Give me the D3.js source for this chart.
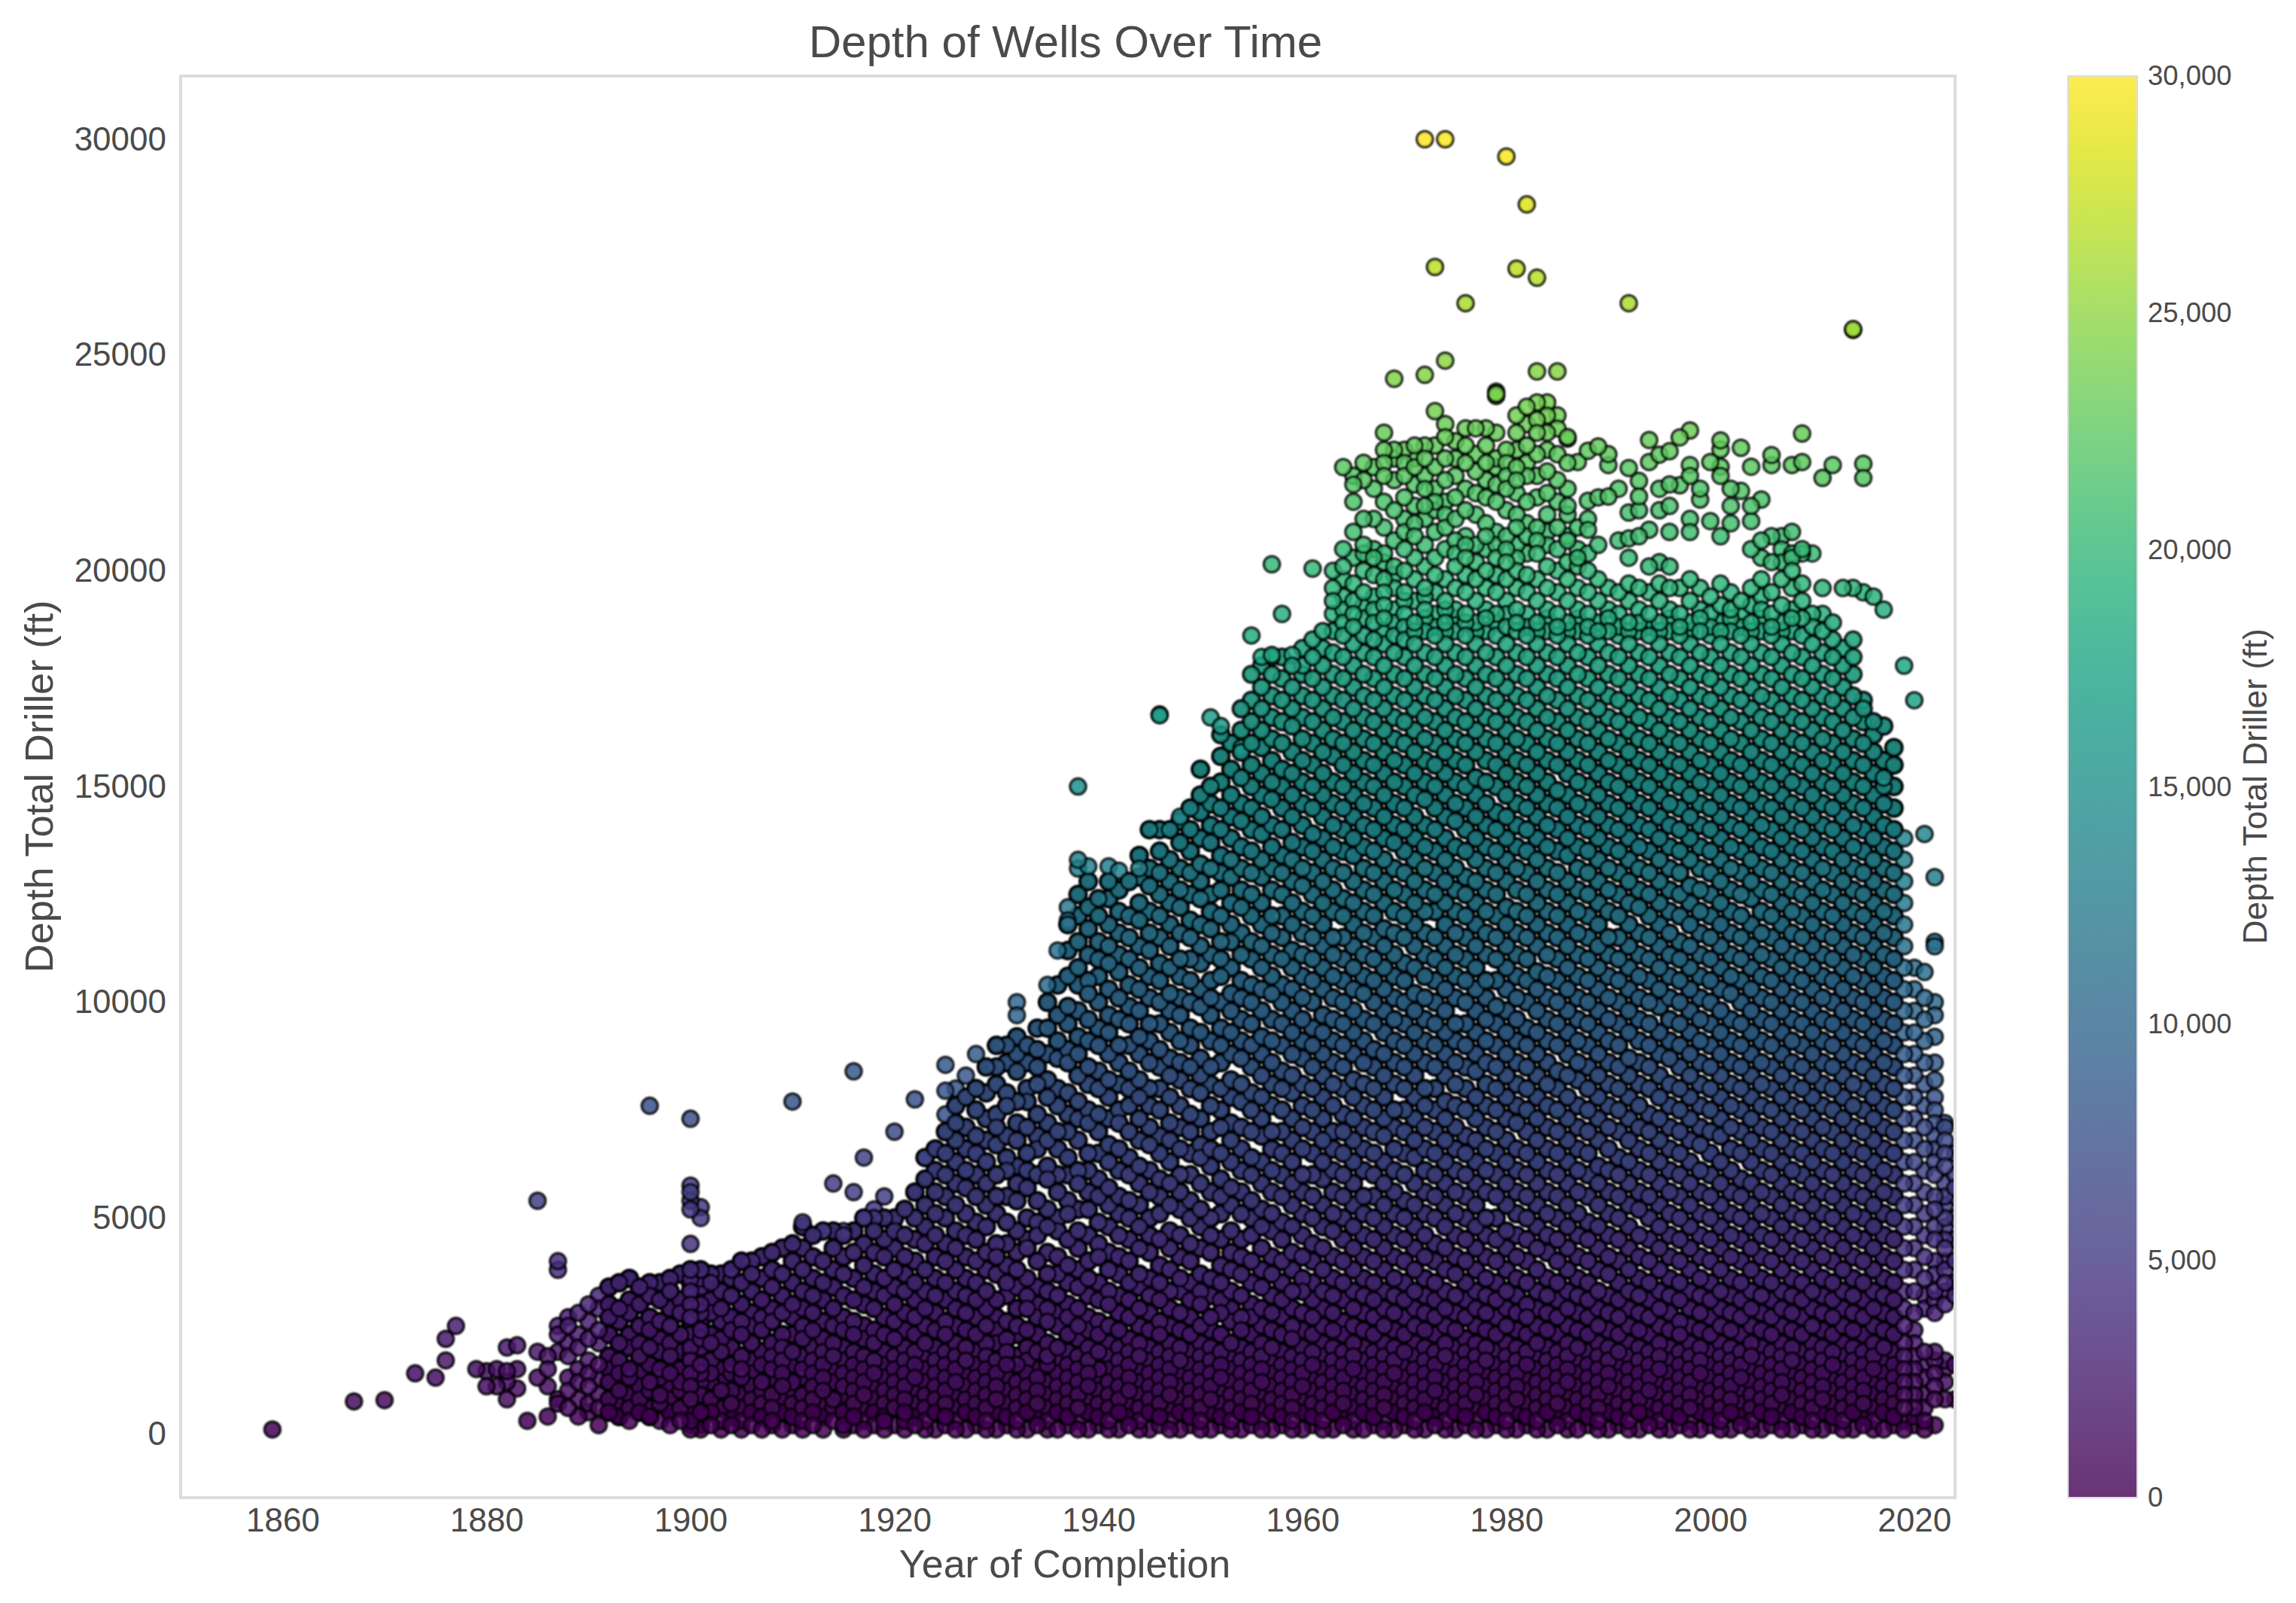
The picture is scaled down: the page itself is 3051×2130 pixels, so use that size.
<!DOCTYPE html>
<html>
<head>
<meta charset="utf-8">
<script src="https://d3js.org/d3.v7.min.js"></script>
<style>
  html, body { margin: 0; background: #fff; }
  text { font-family: "Liberation Sans", Arial, sans-serif; fill: #4a4a4a; }
</style>
</head>
<body>
<div id="chart"></div>
<script>
// wells, one row per year, depth in hundreds of feet
const cloud1880s = [
  [6,10,13,18,21,25,27],
  [4,8,12,15,20,23,28]
];
const cloud1890s = [
  [5,7,11,14,17,22,26,30],
  [2,6,9,13,16,21,24,29,32],
  [5,8,12,15,18,23,27,30,34],
  [4,7,10,14,17,21,26,29,35],
  [3,6,9,13,15,20,23,28,31,36],
  [5,8,11,14,18,21,25,30,34],
  [4,6,10,12,16,20,24,27,32,35],
  [3,7,9,13,15,19,22,26,31,35],
  [2,5,8,11,14,18,21,25,29,33,36],
  [3,6,10,12,15,19,23,28,31,37]
];
const cloud1900s = [
  [1,2,3,4,6,7,8,10,11,13,14,15,17,18,20,21,23,24,26,27,29,30,32,33,35,36,38],
  [1,2,4,5,7,9,10,12,14,16,18,20,22,24,26,28,30,32,34,36,38],
  [2,5,8,12,14,17,21,23,28,31,35,37],
  [1,3,6,10,12,15,19,22,26,29,33,37],
  [2,4,7,10,14,16,20,24,27,32,36,38],
  [1,3,6,9,13,15,18,23,26,30,35,40],
  [2,5,8,11,14,17,21,25,28,33,37,40],
  [1,4,7,10,12,16,19,24,27,31,36,41],
  [2,3,6,9,13,15,18,21,26,29,34,38,42],
  [1,5,8,11,14,17,20,23,28,32,37,43]
];
const cloud1910s = [
  [2,4,7,10,12,16,19,23,27,30,35,40,44],
  [1,3,6,9,13,15,18,22,25,29,33,38,43,48],
  [2,5,8,11,14,17,20,24,28,32,36,41,46],
  [1,4,7,10,13,16,19,22,26,31,35,40,47],
  [3,6,8,12,15,18,21,25,29,34,38,43,47],
  [1,2,5,9,11,14,17,20,24,27,32,37,41,46],
  [2,4,7,10,13,16,19,23,26,31,36,42,47],
  [1,3,6,9,12,15,18,22,25,30,34,39,44,50],
  [2,5,8,11,14,17,21,24,29,33,37,42,47,50],
  [1,3,4,7,10,13,16,19,23,27,32,36,41,45,50]
];
const cloud1920s = [
  [2,6,9,12,15,18,22,26,30,34,38,43,47,50],
  [1,3,5,8,11,14,17,20,24,28,33,37,41,46,52],
  [2,4,7,10,13,16,19,23,27,31,35,40,45,50,56],
  [1,3,6,9,12,15,18,21,25,29,33,38,44,48,53,59,64],
  [1,5,8,11,14,17,20,24,28,32,36,41,46,51,56,61,66],
  [2,4,7,10,13,16,19,23,26,31,35,40,44,50,55,60,65,70],
  [1,3,6,9,12,15,18,21,25,29,33,38,43,47,53,58,63,68,72,76],
  [1,5,8,11,14,17,20,24,28,32,36,41,46,51,57,61,66,71,78],
  [2,4,7,10,13,16,19,23,27,31,35,40,45,49,55,60,65,69,75,80],
  [1,3,6,9,12,15,18,21,25,29,33,38,42,48,53,58,63,68,73,79,85]
];
const cloud1930s = [
  [1,5,8,11,14,17,21,24,27,31,37,41,44,51,55,60,67,71,74,81,85,90],
  [2,4,7,10,13,16,19,22,26,32,35,39,44,49,55,61,64,69,76,79,86,90],
  [1,3,6,9,12,16,18,23,25,29,34,38,42,47,54,58,62,68,72,77,84,88,92],
  [1,5,8,11,14,17,20,24,29,32,36,43,45,50,57,61,65,71,77,80,86,90],
  [2,4,7,10,13,15,19,23,27,30,34,40,46,49,54,60,66,69,74,81,85,89,94],
  [1,3,6,9,12,16,18,21,26,29,33,37,42,48,52,59,62,68,72,78,82,88,94,100],
  [1,5,8,11,14,17,20,25,28,32,37,41,47,50,56,60,66,70,76,80,87,91,97,104],
  [2,4,7,10,13,16,19,23,27,30,35,39,45,51,54,60,64,70,74,79,86,89,95,99,106,112,118],
  [1,3,6,9,12,15,18,22,25,29,34,38,43,47,52,58,61,68,73,77,83,88,92,98,104,108,114,120,125],
  [1,5,8,11,14,17,20,24,27,32,36,40,46,52,56,61,65,72,75,81,85,91,96,102,105,111,117,122,128]
];
const cloud1940s = [
  [2,4,7,10,13,15,19,23,26,31,35,41,44,49,55,59,65,70,74,80,84,90,94,100,106,110,114,120,124],
  [1,3,6,9,12,15,18,21,25,30,33,38,42,48,53,57,63,67,73,78,82,88,93,97,103,109,113,118,124,128],
  [1,5,8,11,14,17,20,24,28,32,37,41,46,51,55,61,66,72,75,81,86,90,96,101,107,111,116,121,126],
  [2,4,7,10,13,16,19,22,27,31,35,40,45,50,54,60,64,70,76,80,84,90,95,99,104,110,115,120,128],
  [1,3,6,9,12,15,18,21,25,29,34,37,43,48,53,58,62,68,73,78,82,88,92,98,103,108,113,119,123,129,134],
  [1,5,8,11,14,17,20,24,28,32,36,42,46,50,56,61,67,71,76,80,86,91,95,101,106,112,116,121,127,131,140],
  [2,4,7,10,13,16,19,23,26,31,35,39,45,51,55,59,65,69,75,80,85,89,95,100,105,109,115,120,125,130,135,140],
  [1,3,6,9,12,15,18,21,25,29,33,38,43,47,53,58,63,68,72,78,83,87,93,98,102,108,113,118,123,128,133,140],
  [1,5,8,11,14,17,20,24,28,33,36,41,46,52,56,60,66,71,76,82,86,91,97,101,106,110,116,122,126,131,137,142],
  [2,4,7,10,13,16,19,23,27,31,35,40,44,50,54,60,65,70,74,80,85,90,94,100,105,110,115,119,125,130,135,140,145]
];
const cloud1950s = [
  [1,3,6,9,12,15,18,21,25,30,33,37,43,48,52,58,64,67,73,79,83,87,93,99,103,109,113,118,124,128,132,138,144,148,154],
  [1,5,8,11,14,17,20,24,27,32,36,42,46,50,56,62,66,70,76,81,85,91,97,101,105,111,117,121,125,131,137,141,146,150],
  [2,4,7,10,13,16,19,23,28,31,35,39,45,51,55,59,65,71,75,80,86,90,94,100,106,110,114,120,126,130,134,140,145,151,157,162],
  [1,3,6,9,12,15,18,21,26,29,33,38,42,47,53,57,63,68,72,78,82,88,93,98,102,108,114,118,123,129,133,138,143,148,154,160],
  [1,5,8,11,14,17,20,24,27,32,37,41,45,51,56,61,66,71,77,81,87,91,96,101,105,111,116,122,126,131,136,142,146,152,158,163,168],
  [2,4,7,10,13,16,19,23,27,30,35,40,46,50,54,60,64,70,75,79,85,90,95,100,104,110,114,120,125,130,135,140,145,150,155,160,165,170,176],
  [1,3,6,9,12,15,18,21,25,29,34,38,43,48,52,58,63,69,73,78,83,88,92,98,103,108,113,118,123,129,133,139,143,148,153,159,163,168,173,178],
  [1,5,8,11,14,17,20,24,28,32,37,41,47,51,56,61,66,70,76,81,86,91,96,102,106,111,116,120,126,131,136,141,147,151,156,161,166,171,176,180],
  [2,4,7,10,13,16,19,23,27,31,35,40,45,49,55,60,65,70,75,80,84,90,95,100,104,110,115,120,125,130,134,140,145,150,154,160,165,170,175,180],
  [1,3,6,9,12,15,18,22,25,29,33,38,42,48,53,58,63,68,73,79,83,88,93,98,103,108,112,118,123,128,133,137,143,148,153,158,164,168,173,178]
];
const cloud1960s = [
  [1,5,8,11,14,17,20,24,28,33,36,41,46,51,56,60,66,71,76,81,87,91,96,101,106,111,116,121,127,131,136,141,146,151,156,161,166,171,176,182],
  [2,4,7,10,13,16,19,23,27,31,35,40,44,50,55,60,65,70,75,80,85,90,94,100,105,110,115,120,125,130,135,139,145,150,155,160,165,170,175,180,184],
  [1,3,6,9,12,15,18,21,25,29,33,38,43,48,53,59,63,68,73,78,83,88,93,97,103,108,113,118,123,128,133,138,143,148,153,158,163,168,173,178,182,186],
  [1,5,8,11,14,17,20,24,28,32,36,41,47,51,56,61,66,70,76,81,86,91,96,101,106,111,115,121,126,131,136,141,146,151,157,161,166,171,176,181,186,190,193,196,200],
  [2,4,7,10,13,16,19,23,26,31,35,40,45,50,55,60,65,70,74,80,85,90,95,100,105,110,115,120,124,130,135,140,145,150,155,160,165,170,175,180,185,188,191,194,198,201,205,224],
  [1,3,6,9,12,15,18,21,25,29,33,38,43,48,53,58,63,68,73,78,82,88,93,98,103,108,113,118,123,128,134,138,143,148,153,158,163,168,173,178,183,187,190,193,197,203,209,216,220,222],
  [1,5,8,11,14,17,20,24,28,32,36,41,46,51,55,61,66,71,76,81,86,91,96,102,106,111,116,121,126,131,136,141,146,151,156,161,166,171,176,181,185,189,192,195,200,204,206,212,221,225],
  [2,4,7,10,13,16,19,23,27,31,35,40,45,50,55,60,65,70,75,80,85,89,95,100,105,110,115,120,125,130,135,140,145,150,155,160,165,170,175,180,184,188,191,194,199,203,205,212,219,224],
  [1,3,6,9,12,15,18,21,25,29,33,38,43,48,53,58,63,69,73,78,83,88,93,98,103,108,113,117,123,128,133,138,143,148,153,158,163,168,173,178,183,186,189,192,195,198,202,204,210,216,222,225,228,232],
  [1,5,8,11,14,17,20,24,28,32,36,41,46,51,56,61,66,71,75,81,86,91,96,101,106,111,116,121,126,131,137,141,146,151,156,161,166,171,176,181,185,188,191,196,199,201,207,214,221,226,228]
];
const cloud1970s = [
  [2,4,7,10,13,16,19,23,27,31,35,40,45,50,54,60,65,70,75,80,85,90,95,100,105,109,115,120,125,130,135,140,145,150,155,160,165,170,175,180,184,187,190,193,195,200,205,209,212,217,222,225,228],
  [1,3,6,9,12,15,18,21,25,29,33,38,43,48,53,58,64,68,73,78,83,88,93,98,102,108,113,118,123,128,133,138,143,148,153,158,163,168,173,178,183,186,188,193,198,203,208,211,215,220,224,226,229],
  [1,5,8,11,14,17,20,24,28,32,36,41,46,51,56,61,66,71,76,80,86,91,96,101,106,111,116,121,126,131,136,141,147,151,156,161,166,171,176,181,186,189,191,194,196,201,206,212,215,219,222,226,229],
  [2,4,7,10,13,16,19,23,27,31,35,40,44,50,55,60,65,70,75,80,85,90,95,100,105,110,115,121,125,130,135,140,145,150,155,160,165,170,175,180,185,187,190,195,199,203,209,214,216,219,224,229,237],
  [1,3,6,9,12,15,18,21,25,29,33,38,43,48,53,58,63,68,73,77,83,88,93,98,103,108,113,118,123,128,133,138,143,148,153,158,163,168,173,178,183,186,188,191,193,198,205,210,213,216,221,226,231,234],
  [1,5,8,11,14,17,20,24,28,32,37,41,46,51,56,61,66,71,76,81,86,91,95,101,106,111,116,121,126,131,136,142,146,151,156,161,166,171,176,181,186,189,191,196,201,204,207,212,217,222,226,230],
  [2,4,7,10,13,16,19,22,27,31,35,40,45,50,55,60,65,69,75,80,85,90,95,100,105,110,115,120,125,129,135,140,145,150,155,160,165,170,175,180,185,188,190,195,199,203,206,208,214,219,225,229,233],
  [1,3,6,9,12,15,18,21,25,29,33,38,43,48,53,58,63,68,73,78,84,88,93,98,103,108,113,118,123,128,133,138,143,148,152,158,163,168,173,178,183,186,188,193,198,202,206,213,218,223,227,233],
  [1,5,8,11,14,17,20,24,28,32,36,41,46,50,56,61,66,71,76,81,86,91,96,101,105,111,116,121,126,131,136,141,146,151,156,161,166,171,176,181,186,189,191,196,200,205,208,211,217,221,225,229,233],
  [2,4,7,10,13,16,19,23,27,31,35,40,45,50,55,60,65,70,75,80,85,90,95,99,105,110,115,120,125,130,135,140,144,150,155,160,165,170,175,180,185,188,190,195,199,203,206,209,216,220,224,226,232,241]
];
const cloud1980s = [
  [1,3,6,9,12,15,18,21,25,29,33,38,43,47,53,58,63,68,73,78,83,88,93,98,103,108,113,118,122,128,133,138,143,148,153,158,163,168,173,178,183,187,190,193,198,202,205,208,214,219,222,225,228],
  [1,5,8,11,14,17,20,24,28,32,36,41,46,51,56,61,66,72,76,81,86,91,96,101,106,111,116,121,126,131,136,141,146,151,156,161,166,171,176,181,186,188,191,196,200,203,206,210,213,218,221,224,228,232,236],
  [2,4,7,10,13,16,19,23,27,30,35,40,45,50,55,60,65,70,75,80,85,90,94,100,105,110,115,120,125,130,135,140,145,150,155,160,165,170,175,180,185,187,190,195,199,204,208,211,216,222,225,229,234,238],
  [1,3,6,9,12,15,18,21,25,29,33,38,43,48,53,58,63,68,73,78,83,88,93,98,103,107,113,118,123,128,133,138,143,148,153,158,163,168,173,178,183,186,188,193,198,204,207,210,217,222,227,232,235,239],
  [1,5,8,11,14,17,20,24,28,32,36,42,46,51,56,61,66,71,76,81,86,91,96,101,106,111,116,121,126,131,136,141,146,151,156,161,166,171,176,181,186,189,191,196,201,206,209,213,218,223,228,232,236,239],
  [2,4,7,10,13,16,19,23,27,31,35,40,45,50,55,60,65,70,75,80,84,90,95,100,105,110,115,120,125,130,135,140,145,149,155,160,165,170,175,180,185,187,190,195,200,205,210,216,221,227,233,236],
  [1,3,6,9,12,15,18,21,25,29,33,38,43,48,53,58,63,68,73,78,83,88,93,98,103,108,113,118,123,128,134,138,143,148,153,158,163,168,173,178,183,186,188,193,198,202,207,213,219,225,231],
  [1,5,8,11,14,17,20,24,28,32,36,41,46,51,56,61,66,71,76,82,86,91,96,101,106,111,116,121,126,131,136,141,146,151,156,161,166,171,176,181,186,189,191,196,201,205],
  [2,4,7,10,13,16,19,23,27,31,35,40,45,49,55,60,65,70,75,80,85,90,95,100,105,110,115,120,125,130,135,140,145,150,155,160,165,170,175,180,185,187,190,195,200],
  [1,3,6,9,12,15,18,21,25,29,33,38,43,48,53,58,62,68,73,78,83,88,93,98,103,108,113,118,123,128,133,138,143,148,153,158,163,168,173,178,183,186,188,193,198]
];
const cloud1990s = [
  [1,5,8,11,14,17,20,24,28,32,37,41,46,51,56,61,66,71,76,81,86,91,96,101,106,111,115,121,126,131,136,141,146,151,156,161,166,171,176,181,186,189,191,196],
  [2,4,7,10,13,16,19,23,27,31,35,40,45,50,55,60,64,70,75,80,85,90,95,100,105,110,115,120,125,130,135,140,145,150,155,160,165,170,175,180,185,187,190,195],
  [1,3,6,9,12,15,18,21,25,29,33,38,43,48,53,58,63,68,73,78,83,87,93,98,103,108,113,118,123,128,133,138,143,148,153,158,163,168,173,178,183,186,188,193,197],
  [1,5,8,11,14,17,20,24,28,32,36,41,46,52,56,61,66,71,76,81,86,91,96,101,106,111,116,122,126,131,136,141,146,151,156,161,166,171,176,181,186,188,191,196],
  [2,4,7,10,13,16,19,23,27,31,35,40,45,50,55,60,65,70,74,80,85,90,95,100,105,110,115,120,125,130,135,140,145,150,155,160,165,170,175,180,185,187,190,195,201],
  [1,3,6,9,12,15,18,21,25,29,33,38,43,48,53,58,63,68,73,78,83,88,93,99,103,108,113,118,123,128,133,138,143,148,153,158,163,168,173,178,183,186,188,193,197,202],
  [1,5,8,11,14,17,20,24,28,32,36,41,46,51,56,61,66,71,76,81,87,91,96,101,106,111,116,121,126,131,136,141,146,151,156,161,166,171,176,181,186,189,191,196,201],
  [2,4,7,10,13,16,19,23,26,31,35,40,45,50,55,60,65,70,75,80,85,90,95,100,105,110,114,120,125,130,135,140,145,150,155,160,165,170,175,180,185,187,190,196],
  [1,3,6,9,12,15,18,21,25,29,33,38,43,48,53,58,63,68,73,78,83,88,93,98,103,108,113,118,123,127,133,138,143,148,153,158,163,168,173,178,183,186,188,193,198],
  [1,5,8,11,14,17,20,24,28,32,36,41,46,51,56,61,67,71,76,81,86,91,96,101,106,111,116,121,126,131,136,141,146,151,156,161,166,171,176,181,186,189,191,196]
];
const cloud2000s = [
  [2,4,7,10,13,16,19,23,27,31,35,40,45,50,55,60,65,70,75,80,85,90,95,100,105,110,115,120,125,130,135,140,145,150,155,160,165,170,175,180,185,187,190,194],
  [1,3,6,9,12,15,18,21,25,29,33,38,43,48,53,58,63,69,73,78,83,88,93,98,103,108,113,118,123,128,133,138,143,148,153,158,163,168,173,178,183,186,188,192,197],
  [1,5,8,11,14,17,20,24,28,32,36,41,46,51,56,61,66,71,76,81,86,91,96,102,106,111,116,121,126,131,136,141,146,151,156,161,166,171,176,181,186,189,191,195],
  [2,4,7,10,13,16,19,23,27,31,35,40,45,50,55,59,65,70,75,80,85,90,95,100,105,110,115,120,125,130,135,140,145,150,155,160,165,170,175,180,185,187,190,193],
  [1,3,6,9,12,15,18,21,25,29,33,38,43,48,53,58,63,68,73,78,83,88,93,98,103,108,113,118,124,128,133,138,143,148,153,158,163,168,173,178,183,186,188,192,196],
  [1,5,8,11,14,17,20,24,28,32,36,41,46,51,56,61,66,71,76,81,86,91,96,101,106,111,116,121,126,131,136,141,146,151,156,161,166,171,176,181,186,189,191,194,198,203],
  [2,4,7,10,13,16,19,23,27,31,35,40,45,50,55,60,65,70,75,80,85,90,95,100,105,110,115,120,125,130,135,140,145,150,155,160,165,170,175,180,185,187,190,195,202],
  [1,3,6,9,12,15,18,21,25,29,33,38,43,48,53,58,63,68,73,78,83,88,93,98,103,108,113,118,123,128,133,138,143,148,153,158,163,168,173,178,183,186,188,192,198,202,205],
  [1,5,8,11,14,17,20,24,28,32,36,41,46,51,56,61,66,71,76,81,86,91,96,101,106,111,116,121,126,131,136,141,146,151,156,161,166,171,176,181,186,189,191,196,200,204],
  [2,4,7,10,13,16,19,23,27,31,35,40,45,50,55,60,65,70,75,80,85,90,95,100,105,110,115,120,125,130,135,140,145,150,155,160,165,170,175,180,185,189,193,197,204]
];
const cloud2010s = [
  [1,3,6,9,12,15,18,21,25,29,33,38,43,48,53,58,63,68,73,78,83,88,93,98,103,108,113,118,123,128,133,138,143,148,153,158,163,168,173,178,183,187,190],
  [1,5,8,11,14,17,20,24,28,32,36,41,46,51,56,61,66,71,76,81,86,91,96,101,106,111,116,121,126,131,136,141,146,151,156,161,166,171,176,181,186,190,196],
  [2,4,7,10,13,16,19,23,27,31,35,40,45,50,55,60,65,70,75,80,85,90,95,100,105,110,115,120,125,130,135,140,145,150,155,160,165,170,175,180,184,188],
  [1,3,6,9,12,15,18,21,25,29,33,38,43,48,53,58,63,68,73,78,83,88,93,98,103,108,113,118,123,128,133,138,143,148,153,158,163,168,173,178,182,196],
  [1,5,8,11,14,17,20,24,28,32,36,41,46,51,56,61,66,71,76,81,86,91,96,101,106,111,116,121,126,131,136,141,146,151,156,161,166,171,176,180,184,196],
  [2,4,7,10,13,16,19,23,27,31,35,40,45,50,55,60,65,70,75,80,85,90,95,100,105,110,115,120,125,130,135,140,145,150,155,160,165,168,170,195],
  [1,3,6,9,12,15,18,21,25,29,33,38,43,48,53,58,63,68,73,78,83,88,93,98,103,108,113,118,123,128,133,138,143,148,153,158,162,165,194],
  [1,5,8,11,14,17,20,24,28,32,36,41,46,51,56,61,66,71,76,81,86,91,96,101,106,111,116,121,126,131,136,141,146,150,152,156,164,191],
  [2,4,7,10,13,16,19,23,27,31,35,40,45,50,55,60,65,70,75,80,85,90,95,100,105,110,115,120,125,130,135,140,145,150,155,159],
  [1,3,6,9,12,15,18,21,25,29,33,38,43,48,53,58,63,68,73,78,83,88,93,98,103,108,113,118,123,128,133,138,178]
];
const cloud2020s = [
  [2,4,6,9,12,15,18,21,24,28,33,38,43,48,53,58,63,68,73,78,83,88,93,98,103,108,170],
  [1,3,6,9,13,16,19,29,32,36,41,46,51,56,61,66,71,76,81,86,91,96,101,107,139],
  [2,8,11,14,17,19,28,31,33,37,40,45,48,52,55,60,63,66,69,72,75,78,82,86,92,97,100,113,114,129],
  [8,12,15,17,30,33,35,38,40,43,45,48,50,53,55,58,62,65,68,71,72],
  [8,16,32,35,40,45,50,55,57,60,65]
];
const cloudDecades = [
  [1888, cloud1880s], [1890, cloud1890s], [1900, cloud1900s], [1910, cloud1910s],
  [1920, cloud1920s], [1930, cloud1930s], [1940, cloud1940s], [1950, cloud1950s],
  [1960, cloud1960s], [1970, cloud1970s], [1980, cloud1980s], [1990, cloud1990s],
  [2000, cloud2000s], [2010, cloud2010s], [2020, cloud2020s]
];

// scattered wells outside the solid part of the cloud
const earlyYears = [1859,1867,1870,1873,1875,1876,1876,1877,1879,1880,1881,1881,1880,1882,1883,1882,1883,1883,1882,1882,1884,1885,1885,1886,1886,1886,1886,1887,1887,1887,1887,1887,1887,1887,1885];
const earlyDepths = [100,750,780,1400,1300,1700,2200,2500,1500,1450,1500,1100,1100,2000,2050,1450,1500,1050,1200,800,300,1300,1900,1100,1500,1800,400,700,800,1900,2300,2500,3800,4000,5400];
const spikeYears = [1896,1900,1900,1900,1900,1900,1900,1901,1901,1910,1916,1922,1920,1917,1914,1916,1919,1918,1917,1911,1913,1915,1923,1925,1925,1926,1925,1928,1927,1932,1932,1938,1938,1938,1939,1941,1942,1944,1937,1937,1936,1935,1946,1946,1951,1952,1955,1957,1961,1958,1957,1956,1959,1960,1954,1948];
const spikeDepths = [7600,7300,5750,5600,5400,5200,4400,5250,5000,7700,8400,7750,7000,6400,5800,5600,5500,5200,5000,4900,4700,4700,6400,7400,7950,8000,8550,8800,8300,10000,9700,15000,13300,13100,13150,13150,13050,13100,12200,11900,11200,10400,16650,16670,16600,16400,18500,20150,20050,19000,18050,18000,18050,17800,15900,14300];
const deepYears = [1972,1974,1980,1982,1973,1981,1983,1976,1992,2014,2014,1974,1972,1969,1983,1985,1979,1979];
const deepDepths = [30000,30000,29600,28490,27040,27000,26790,26200,26200,25580,25600,24870,24540,24450,24620,24620,24150,24050];
const upperYears = [1986,1986,1986,1987,1987,1988,1988,1988,1988,1988,1989,1989,1990,1990,1990,1991,1991,1992,1992,1992,1992,1993,1993,1993,1993,1994,1994,1994,1995,1995,1995,1996,1996,1996,1996,1997,1997,1998,1998,1998,1998,1998,1999,1999,2000,2000,2001,2001,2001,2001,2001,2002,2002,2002,2003,2003,2004,2004,2004,2004,2005,2005,2006,2006,2006,2007,2008,2008,2008,2009,2009,2009,2010,2011,2012,2015,2015,1987,1989];
const upperDepths = [23060,21500,20800,22520,21000,22780,21620,21200,20950,20400,22880,21700,22700,22450,21720,21900,20700,22380,21350,20750,20300,22080,21720,21400,20800,23030,22520,20950,22690,21900,21400,22770,22000,21500,20900,23090,21980,23250,22450,22200,21200,20900,21900,21650,22520,21150,23020,22810,22410,22200,20800,21900,21500,21100,22850,21850,22410,21500,21150,20500,21650,20700,22680,22450,20800,20800,22450,20900,20300,23180,22520,20500,20400,22150,22450,22480,22150,20300,20600];

const xTicks = [1860, 1880, 1900, 1920, 1940, 1960, 1980, 2000, 2020];
const yTicks = [0, 5000, 10000, 15000, 20000, 25000, 30000];
const barTicks = [0, 5000, 10000, 15000, 20000, 25000, 30000];

const width = 3051, height = 2130;
const frame = { left: 240, right: 2598, top: 101, bottom: 1990 };
const bar = { left: 2748, right: 2840 };

const x = d3.scaleLinear().domain([1850, 2024]).range([frame.left, frame.right]);
const y = d3.scaleLinear().domain([-1480, 31465]).range([frame.bottom, frame.top]);
const barY = d3.scaleLinear().domain([0, 30000]).range([frame.bottom, frame.top]);
const colour = d3.scaleSequential(d3.interpolateViridis).domain([0, 30000]);

const cloud = cloudDecades.flatMap(([first, rows]) =>
  rows.flatMap((row, i) => row.map(h => ({ year: first + i, depth: h * 100 }))));
const zipPoints = (years, depths) => years.map((year, i) => ({ year, depth: depths[i] }));
const scattered = [
  ...zipPoints(earlyYears, earlyDepths),
  ...zipPoints(spikeYears, spikeDepths),
  ...zipPoints(deepYears, deepDepths),
  ...zipPoints(upperYears, upperDepths)
];
// the file order of the wells has nothing to do with year, so mix the overlap
const wells = [...cloud, ...scattered]
  .sort((a, b) => (a.depth * 37 + a.year * 91) % 101 - (b.depth * 37 + b.year * 91) % 101);
const solid = cloud.filter(d => d.depth < 19000 && d.depth > 300 && d.year >= 1892 && d.year <= 2018);
// the black thins out towards the top of the cloud, where the picture opens up
const underOpacity = d3.scaleLinear().domain([15500, 19000]).range([1, 0.1]).clamp(true);

const svg = d3.select("#chart").append("svg")
  .attr("width", width).attr("height", height)
  .style("display", "block");

const defs = svg.append("defs");
defs.append("filter").attr("id", "soft").attr("x", "-2%").attr("y", "-2%").attr("width", "104%").attr("height", "104%")
  .append("feGaussianBlur").attr("stdDeviation", 1);

defs.append("clipPath").attr("id", "plot-clip").append("rect")
  .attr("x", frame.left).attr("y", frame.top)
  .attr("width", frame.right - frame.left).attr("height", frame.bottom - frame.top);

const plot = svg.append("g").attr("clip-path", "url(#plot-clip)").append("g").attr("filter", "url(#soft)");

plot.append("g").selectAll("circle")
  .data(solid)
  .enter()
  .append("circle")
  .attr("cx", d => x(d.year))
  .attr("cy", d => y(d.depth))
  .attr("r", 13)
  .attr("fill", "#000")
  .attr("fill-opacity", d => underOpacity(d.depth));

plot.append("g").selectAll("circle")
  .data(wells)
  .enter()
  .append("circle")
  .attr("cx", d => x(d.year))
  .attr("cy", d => y(d.depth))
  .attr("r", 10.5)
  .attr("fill", d => colour(d.depth))
  .attr("fill-opacity", 0.85)
  .attr("stroke", "#000")
  .attr("stroke-opacity", 0.85)
  .attr("stroke-width", 3.5);

svg.append("rect")
  .attr("x", frame.left).attr("y", frame.top)
  .attr("width", frame.right - frame.left).attr("height", frame.bottom - frame.top)
  .attr("fill", "none").attr("stroke", "#dcdcdc").attr("stroke-width", 4);

const xAxis = svg.append("g")
  .attr("transform", `translate(0,${frame.bottom})`)
  .call(d3.axisBottom(x).tickValues(xTicks).tickFormat(d3.format("d")).tickSize(0).tickPadding(14));
const yAxis = svg.append("g")
  .attr("transform", `translate(${frame.left},0)`)
  .call(d3.axisLeft(y).tickValues(yTicks).tickFormat(d3.format("d")).tickSize(0).tickPadding(19));
[xAxis, yAxis].forEach(a => {
  a.select(".domain").remove();
  a.attr("font-family", null).attr("font-size", null);
  a.selectAll("text").style("font-size", "44px");
});

svg.append("text").attr("x", 1416).attr("y", 76).attr("text-anchor", "middle")
  .style("font-size", "60px").text("Depth of Wells Over Time");
svg.append("text").attr("x", 1415).attr("y", 2096).attr("text-anchor", "middle")
  .style("font-size", "52px").text("Year of Completion");
svg.append("text").attr("transform", "translate(70,1045) rotate(-90)").attr("text-anchor", "middle")
  .style("font-size", "52.5px").text("Depth Total Driller (ft)");

// colorbar
const grad = defs.append("linearGradient").attr("id", "bar-grad")
  .attr("x1", 0).attr("y1", 1).attr("x2", 0).attr("y2", 0);
d3.range(0, 1.001, 0.05).forEach(t => {
  grad.append("stop").attr("offset", t).attr("stop-color", d3.interpolateViridis(t)).attr("stop-opacity", 0.8);
});
svg.append("rect")
  .attr("x", bar.left).attr("y", frame.top)
  .attr("width", bar.right - bar.left).attr("height", frame.bottom - frame.top)
  .attr("fill", "url(#bar-grad)").attr("stroke", "#dcdcdc").attr("stroke-width", 2);

const barAxis = svg.append("g")
  .attr("transform", `translate(${bar.right},0)`)
  .call(d3.axisRight(barY).tickValues(barTicks).tickFormat(d3.format(",")).tickSize(0).tickPadding(14));
barAxis.select(".domain").remove();
barAxis.attr("font-family", null).attr("font-size", null);
barAxis.selectAll("text").style("font-size", "36.5px");

svg.append("text").attr("transform", "translate(3012,1045) rotate(-90)").attr("text-anchor", "middle")
  .style("font-size", "44.5px").text("Depth Total Driller (ft)");
</script>
</body>
</html>
